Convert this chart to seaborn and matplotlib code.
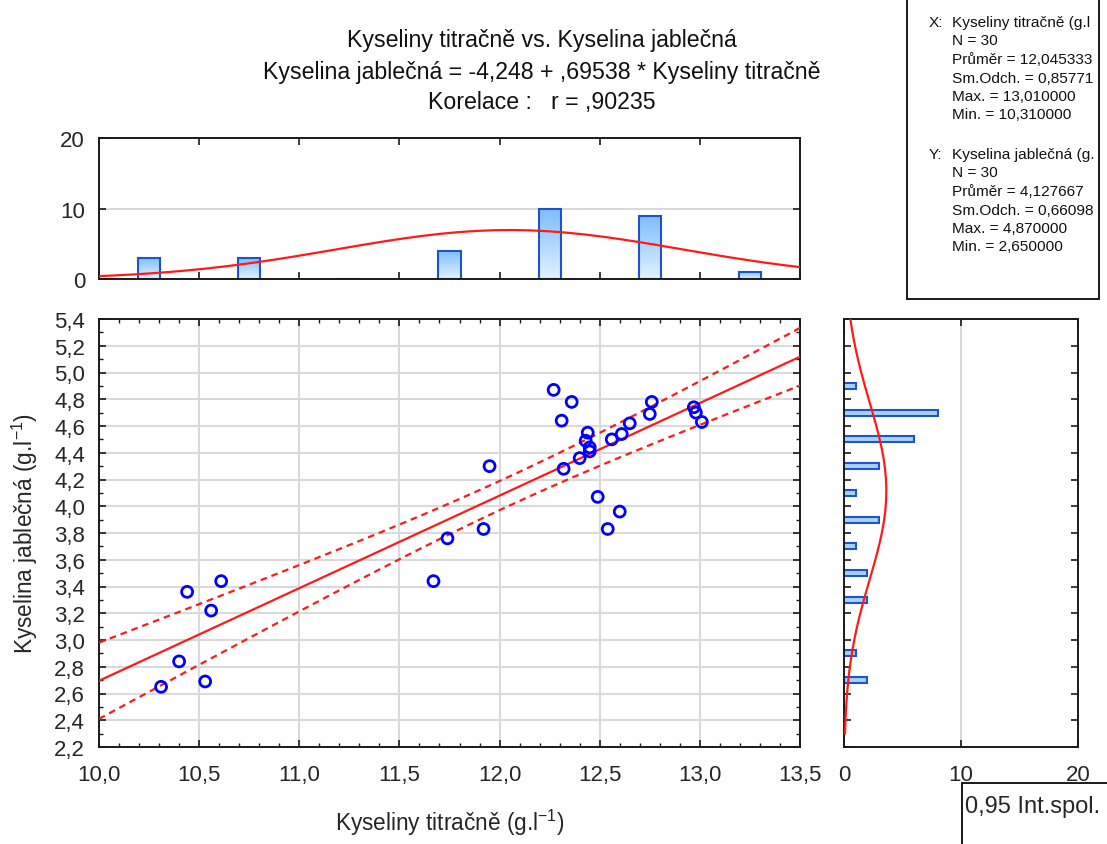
import numpy as np
import pandas as pd
import matplotlib
matplotlib.use("Agg")
import matplotlib.pyplot as plt
from matplotlib.ticker import MultipleLocator, FuncFormatter, FixedLocator
import seaborn as sns

# ---- data ----
kyseliny_titracne = [10.31, 10.40, 10.44, 10.53, 10.56, 10.61, 11.67, 11.74, 11.92, 11.95,
                     12.27, 12.36, 12.31, 12.32, 12.40, 12.43, 12.44, 12.45, 12.45, 12.49,
                     12.54, 12.60, 12.56, 12.61, 12.65, 12.75, 12.76, 12.97, 12.98, 13.01]
kyselina_jablecna = [2.65, 2.84, 3.36, 2.69, 3.22, 3.44, 3.44, 3.76, 3.83, 4.30,
                     4.87, 4.78, 4.64, 4.28, 4.36, 4.49, 4.55, 4.44, 4.41, 4.07,
                     3.83, 3.96, 4.50, 4.54, 4.62, 4.69, 4.78, 4.74, 4.70, 4.63]
title_lines = ["Kyseliny titračně vs. Kyselina jablečná",
               "Kyselina jablečná = -4,248 + ,69538 * Kyseliny titračně",
               "Korelace :   r = ,90235"]
stats_x_head = ("X:", "Kyseliny titračně (g.l")
stats_x = ["N = 30", "Průměr = 12,045333", "Sm.Odch. = 0,85771",
           "Max. = 13,010000", "Min. = 10,310000"]
stats_y_head = ("Y:", "Kyselina jablečná (g.")
stats_y = ["N = 30", "Průměr = 4,127667", "Sm.Odch. = 0,66098",
           "Max. = 4,870000", "Min. = 2,650000"]
x_label = r"Kyseliny titračně (g.l$^{-1}$)"
y_label = r"Kyselina jablečná (g.l$^{-1}$)"
legend_text = "0,95 Int.spol."

df = pd.DataFrame({"x": kyseliny_titracne, "y": kyselina_jablecna})

sns.set_style("white")
plt.rcParams["font.family"] = ["Liberation Sans", "DejaVu Sans"]
plt.rcParams["mathtext.fontset"] = "custom"
plt.rcParams["mathtext.rm"] = "Liberation Sans"
plt.rcParams["mathtext.it"] = "Liberation Sans:italic"
plt.rcParams["mathtext.default"] = "rm"

W, H = 1107, 845
fig = plt.figure(figsize=(W / 100, H / 100), dpi=100)
fig.patch.set_facecolor("white")

def box(l, t, r, b):
    return [l / W, 1 - b / H, (r - l) / W, (b - t) / H]

ax = fig.add_axes(box(99, 320, 800, 748))
ax_top = fig.add_axes(box(99, 139, 800, 280))
ax_r = fig.add_axes(box(844, 320, 1078, 748))
ax_s = fig.add_axes(box(907, 0, 1099, 300))
ax_l = fig.add_axes(box(962, 784, 1200, 900))

RED = "#ff1a1a"
BLUE_EDGE = "#1b55c9"
BLUE_FILL = "#a9d2fb"
GRID = "#dadada"
TICKFS = 16
comma = FuncFormatter(lambda v, p: f"{v:.1f}".replace(".", ","))

for a in (ax, ax_top, ax_r, ax_s, ax_l):
    for s in a.spines.values():
        s.set_linewidth(1.4)
        s.set_color("#1a1a1a")

# ---- main scatter ----
n = len(df)
xv = df["x"].to_numpy(); yv = df["y"].to_numpy()
b1, b0 = np.polyfit(xv, yv, 1)
xs = np.linspace(10.0, 13.5, 200)
yhat = b0 + b1 * xs
resid = yv - (b0 + b1 * xv)
s_err = np.sqrt(np.sum(resid ** 2) / (n - 2))
sxx = np.sum((xv - xv.mean()) ** 2)
t_crit = 2.0484
half = t_crit * s_err * np.sqrt(1 / n + (xs - xv.mean()) ** 2 / sxx)

ax.grid(True, which="major", color=GRID, linewidth=1.5, zorder=0)
ax.set_axisbelow(True)
sns.lineplot(x=xs, y=yhat, ax=ax, color=RED, linewidth=1.6, sort=False, estimator=None, zorder=3)
sns.lineplot(x=xs, y=yhat + half, ax=ax, color=RED, linewidth=1.6, sort=False, estimator=None,
             linestyle=(0, (3, 2.2)), zorder=3)
sns.lineplot(x=xs, y=yhat - half, ax=ax, color=RED, linewidth=1.6, sort=False, estimator=None,
             linestyle=(0, (3, 2.2)), zorder=3)
sns.scatterplot(data=df, x="x", y="y", ax=ax, s=62, facecolor="none", edgecolor="#0000ff",
                linewidth=2.0, zorder=4)
ax.set_xlim(10.0, 13.5)
ax.set_ylim(2.2, 5.4)
ax.xaxis.set_major_locator(MultipleLocator(0.5))
ax.xaxis.set_minor_locator(MultipleLocator(0.1))
ax.yaxis.set_major_locator(MultipleLocator(0.2))
ax.yaxis.set_minor_locator(MultipleLocator(0.1))
ax.xaxis.set_major_formatter(comma)
ax.yaxis.set_major_formatter(comma)
ax.tick_params(which="both", direction="in", top=True, right=True, bottom=True, left=True,
               color="#1a1a1a")
ax.tick_params(which="major", length=5, width=1.2, labelsize=TICKFS, pad=10)
ax.tick_params(which="minor", length=3, width=1.0)
ax.tick_params(axis="x", which="major", pad=12)
ax.set_xlabel(x_label, fontsize=16.3, labelpad=16)
ax.set_ylabel(y_label, fontsize=16.3, labelpad=10)

# ---- top histogram ----
sns.histplot(data=df, x="x", ax=ax_top, binwidth=0.5, binrange=(10.0, 13.5), shrink=0.22,
             color=BLUE_FILL, edgecolor=BLUE_EDGE, linewidth=1.5, alpha=1, zorder=2)
grad = np.linspace(0, 1, 64).reshape(-1, 1)
cmap_v = matplotlib.colors.LinearSegmentedColormap.from_list("g", ["#e3f1ff", "#7dbdfd"])
for p in list(ax_top.patches):
    x0, y0 = p.get_x(), p.get_y()
    w, h = p.get_width(), p.get_height()
    if h <= 0:
        continue
    im = ax_top.imshow(grad, extent=(x0, x0 + w, y0, y0 + h), origin="lower", aspect="auto",
                       cmap=cmap_v, zorder=1.9)
    im.set_clip_path(p)
    p.set_facecolor("none")
mx, sx = xv.mean(), xv.std(ddof=1)
xc = np.linspace(10.0, 13.5, 40)
yc = n * 0.5 / (sx * np.sqrt(2 * np.pi)) * np.exp(-0.5 * ((xc - mx) / sx) ** 2)
sns.lineplot(x=xc, y=yc, ax=ax_top, color=RED, linewidth=1.6, sort=False, estimator=None, zorder=3)
ax_top.set_xlim(10.0, 13.5)
ax_top.set_ylim(0, 20)
ax_top.xaxis.set_major_locator(MultipleLocator(0.5))
ax_top.yaxis.set_major_locator(FixedLocator([0, 10, 20]))
ax_top.grid(True, axis="y", color=GRID, linewidth=1.5, zorder=0)
ax_top.set_axisbelow(True)
ax_top.tick_params(which="both", direction="in", top=True, right=True, bottom=True, left=True,
                   length=5, width=1.2, labelbottom=False, labelsize=TICKFS, pad=10,
                   color="#1a1a1a")
ax_top.set_xlabel(""); ax_top.set_ylabel("")

# ---- right histogram ----
sns.histplot(data=df, y="y", ax=ax_r, binwidth=0.2, binrange=(2.2, 5.4), shrink=0.22,
             color=BLUE_FILL, edgecolor=BLUE_EDGE, linewidth=1.5, alpha=1, zorder=2)
my, sy = yv.mean(), yv.std(ddof=1)
yc2 = np.linspace(2.3, 5.4, 40)
xc2 = n * 0.2 / (sy * np.sqrt(2 * np.pi)) * np.exp(-0.5 * ((yc2 - my) / sy) ** 2)
sns.lineplot(x=xc2, y=yc2, ax=ax_r, color=RED, linewidth=1.6, sort=False, estimator=None, zorder=3)
ax_r.set_xlim(0, 20)
ax_r.set_ylim(2.2, 5.4)
ax_r.xaxis.set_major_locator(FixedLocator([0, 10, 20]))
ax_r.yaxis.set_major_locator(MultipleLocator(0.2))
ax_r.grid(True, axis="x", color=GRID, linewidth=1.5, zorder=0)
ax_r.set_axisbelow(True)
ax_r.tick_params(which="both", direction="in", top=True, right=True, bottom=True, left=True,
                 length=5, width=1.2, labelleft=False, labelsize=TICKFS, color="#1a1a1a")
ax_r.tick_params(axis="x", pad=12)
ax_r.set_xlabel(""); ax_r.set_ylabel("")

# ---- statistics box ----
ax_s.set_xticks([]); ax_s.set_yticks([])
ax_s.spines["top"].set_visible(False)
ax_s.set_xlim(907, 1099)
ax_s.set_ylim(300, 0)
SFS = 11.1
ys = [23, 41, 60, 79, 97, 115]
for (lab, head), dy, lines in ((stats_x_head, 0, stats_x), (stats_y_head, 132, stats_y)):
    ax_s.text(929, ys[0] + dy, lab, fontsize=SFS, va="center", ha="left", color="#111111")
    ax_s.text(952, ys[0] + dy, head, fontsize=SFS, va="center", ha="left", color="#111111")
    for i, t in enumerate(lines):
        ax_s.text(952, ys[i + 1] + dy, t, fontsize=SFS, va="center", ha="left", color="#111111")

# ---- legend box ----
ax_l.set_xticks([]); ax_l.set_yticks([])
ax_l.set_xlim(0, 1); ax_l.set_ylim(0, 1)
ax_l.text(0.012, 0.80, legend_text, fontsize=17, va="center", ha="left",
          transform=ax_l.transAxes)

# ---- titles ----
for t, yp in zip(title_lines, [40, 72, 103]):
    fig.text(542 / W, 1 - yp / H, t, fontsize=16.7, ha="center", va="center", color="#111111")

fig.savefig("out.png", dpi=100, facecolor="white")
